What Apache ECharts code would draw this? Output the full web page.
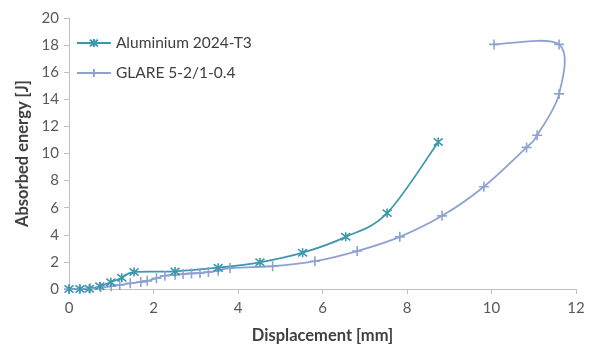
<!DOCTYPE html>
<html>
<head>
<meta charset="utf-8">
<script src="https://cdn.jsdelivr.net/npm/echarts@6/dist/echarts.min.js"></script>
<style>
  html, body { margin: 0; padding: 0; background: #fff; }
  #chart { width: 596px; height: 349px; }
</style>
</head>
<body>
<div id="chart"></div>
<script>
// displacement [mm] / absorbed energy [J]
const aluX = [0, 0.26, 0.48, 0.73, 0.99, 1.25, 1.54, 2.51, 3.53, 4.52, 5.53, 6.55, 7.53, 8.74];
const aluY = [0, 0, 0.02, 0.2, 0.5, 0.83, 1.25, 1.3, 1.57, 1.97, 2.68, 3.85, 5.6, 10.85];

const glareX = [0, 0.25, 0.5, 0.75, 1.0, 1.2, 1.45, 1.7, 1.85, 2.07, 2.27, 2.51, 2.7, 2.9, 3.1, 3.3, 3.53, 3.81,
  4.82, 5.82, 6.82, 7.83, 8.83, 9.82, 10.83, 11.08, 11.6, 11.6, 10.06];
const glareY = [0, 0.02, 0.05, 0.12, 0.2, 0.3, 0.42, 0.52, 0.6, 0.79, 0.98, 1.05, 1.1, 1.15, 1.18, 1.25, 1.35, 1.55,
  1.68, 2.05, 2.8, 3.85, 5.4, 7.55, 10.45, 11.35, 14.4, 18.05, 18.05];

const seriesNames = ['Aluminium 2024-T3', 'GLARE 5-2/1-0.4'];
const colors = ['#3C98AE', '#8EA2D2'];

const chart = echarts.init(document.getElementById('chart'));
const font = 'Lato, "Open Sans", sans-serif';

function pairs(xs, ys) {
  return xs.map((x, i) => [x, ys[i]]);
}

// Excel style smoothed line (catmull-rom, not clamped like echarts' smooth)
function smoothCurve(xs, ys, color) {
  return function (params, api) {
    if (params.dataIndex !== 0) return;
    const p = xs.map((x, i) => api.coord([x, ys[i]]));
    const n = p.length;
    const t = 1 / 6;
    const children = [];
    for (let i = 0; i < n - 1; i++) {
      const p0 = p[Math.max(i - 1, 0)];
      const p1 = p[i];
      const p2 = p[i + 1];
      const p3 = p[Math.min(i + 2, n - 1)];
      children.push({
        type: 'bezierCurve',
        shape: {
          x1: p1[0], y1: p1[1],
          x2: p2[0], y2: p2[1],
          cpx1: p1[0] + (p2[0] - p0[0]) * t,
          cpy1: p1[1] + (p2[1] - p0[1]) * t,
          cpx2: p2[0] - (p3[0] - p1[0]) * t,
          cpy2: p2[1] - (p3[1] - p1[1]) * t
        },
        style: { stroke: color, lineWidth: 1.8, fill: null }
      });
    }
    return { type: 'group', children: children };
  };
}

chart.setOption({
  animation: false,
  textStyle: { fontFamily: font },
  grid: { left: 69, right: 20, top: 18, bottom: 60, outerBoundsMode: 'none' },
  legend: {
    orient: 'vertical',
    left: 76,
    top: 35,
    padding: 0,
    itemGap: 14,
    itemWidth: 34,
    itemHeight: 10,
    lineStyle: { opacity: 1, width: 1.8 },
    textStyle: { fontSize: 15.5, color: '#404040', fontFamily: font },
    data: seriesNames
  },
  xAxis: {
    type: 'value',
    min: 0,
    max: 12,
    interval: 2,
    name: 'Displacement [mm]',
    nameLocation: 'middle',
    nameGap: 38,
    nameTextStyle: { fontSize: 16.5, fontWeight: 'bold', color: '#404040' },
    axisLine: { lineStyle: { color: '#BFBFBF' } },
    axisTick: { show: true, length: 5, lineStyle: { color: '#BFBFBF' } },
    axisLabel: { fontSize: 15, color: '#595959', margin: 12 },
    splitLine: { show: false }
  },
  yAxis: {
    type: 'value',
    min: 0,
    max: 20,
    interval: 2,
    name: 'Absorbed energy [J]',
    nameLocation: 'middle',
    nameGap: 36,
    nameTextStyle: { fontSize: 16.5, fontWeight: 'bold', color: '#404040' },
    axisLine: { show: true, lineStyle: { color: '#BFBFBF' } },
    axisTick: { show: true, length: 5, lineStyle: { color: '#BFBFBF' } },
    axisLabel: { fontSize: 15, color: '#595959', margin: 10 },
    splitLine: { show: false }
  },
  series: [
    {
      name: 'alu-curve',
      type: 'custom',
      silent: true,
      data: pairs(aluX, aluY),
      renderItem: smoothCurve(aluX, aluY, colors[0]),
      z: 2
    },
    {
      name: 'glare-curve',
      type: 'custom',
      silent: true,
      data: pairs(glareX, glareY),
      renderItem: smoothCurve(glareX, glareY, colors[1]),
      z: 1
    },
    {
      name: seriesNames[0],
      type: 'line',
      data: pairs(aluX, aluY),
      symbol: 'path://M0,0L8,8M8,0L0,8M4,-1L4,9',
      symbolSize: 9,
      color: colors[0],
      lineStyle: { width: 1.8, color: colors[0], opacity: 0 },
      itemStyle: { color: colors[0], borderColor: colors[0], borderWidth: 1.6 },
      z: 4
    },
    {
      name: seriesNames[1],
      type: 'line',
      data: pairs(glareX, glareY),
      symbol: 'path://M0,5L10,5M5,0L5,10',
      symbolSize: 10,
      color: colors[1],
      lineStyle: { width: 1.8, color: colors[1], opacity: 0 },
      itemStyle: { color: colors[1], borderColor: colors[1], borderWidth: 1.6 },
      z: 3
    }
  ]
});
</script>
</body>
</html>
